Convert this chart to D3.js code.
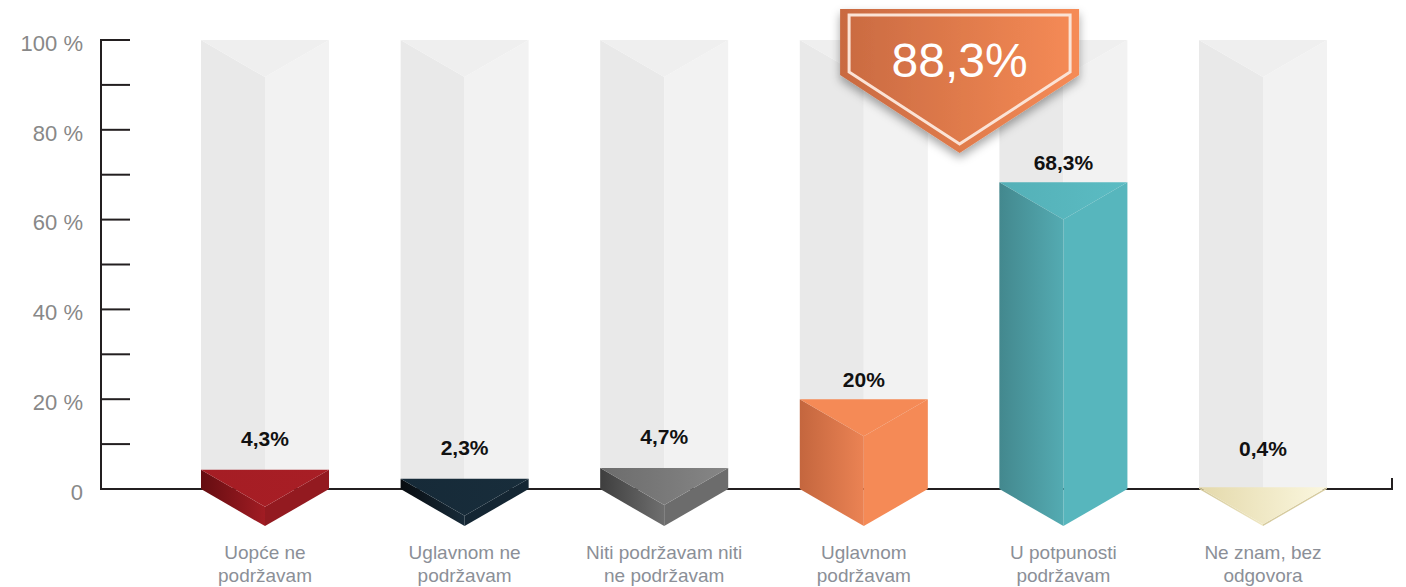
<!doctype html>
<html lang="en">
<head>
  <meta charset="utf-8">
  <title>Podrška</title>
  <style>
  body { margin: 0; background: #fff; }
  svg { display: block; }
  .tick-label { font-family: "Liberation Sans", Arial, sans-serif; font-size: 22px; fill: #888; }
  .value-label { font-family: "Liberation Sans", Arial, sans-serif; font-size: 21px; font-weight: bold; fill: #111; }
  .cat-label { font-family: "Liberation Sans", Arial, sans-serif; font-size: 19px; fill: #8b8f97; }
  .callout-text { font-family: "Liberation Sans", Arial, sans-serif; font-size: 48px; fill: #fff; }
  </style>
</head>
<body>
<div id="chart"></div>
<script src="https://cdnjs.cloudflare.com/ajax/libs/d3/7.8.5/d3.min.js"></script>
<script>

//------------------data
var categories = ["Uopće ne podržavam", "Uglavnom ne podržavam", "Niti podržavam niti ne podržavam",
                  "Uglavnom podržavam", "U potpunosti podržavam", "Ne znam, bez odgovora"];
var labelLines = [["Uopće ne", "podržavam"], ["Uglavnom ne", "podržavam"], ["Niti podržavam niti", "ne podržavam"],
                  ["Uglavnom", "podržavam"], ["U potpunosti", "podržavam"], ["Ne znam, bez", "odgovora"]];
var values = [4.3, 2.3, 4.7, 20, 68.3, 0.4];
var yTicks = [0, 10, 20, 30, 40, 50, 60, 70, 80, 90, 100];
var yTickLabels = ["0", "", "20 %", "", "40 %", "", "60 %", "", "80 %", "", "100 %"];
var calloutValue = 88.3;   // Uglavnom + U potpunosti
var calloutCats = [3, 4];

//------------------colours per bar: top face gradient, right face, left face gradient
var palette = [
  {t0: "#a51d24", t1: "#a81e25", right: "#931a20", l0: "#650d11", l1: "#a11c23"},
  {t0: "#162a38", t1: "#182d3b", right: "#142633", l0: "#080c10", l1: "#172b39"},
  {t0: "#6c6c6c", t1: "#868686", right: "#6c6c6c", l0: "#3e3e3e", l1: "#6f6f6f"},
  {t0: "#f58a56", t1: "#f58a56", right: "#f58a56", l0: "#c4663e", l1: "#eb8354"},
  {t0: "#54b0b7", t1: "#5bbcc3", right: "#57b6bd", l0: "#43888e", l1: "#54abb2"},
  {t0: "#e4d9ab", t1: "#fbf7df", right: "#d6cb9f", l0: "#d3c89a", l1: "#efe7c2"}
];

//------------------svg
var width = 1406, height = 587;
var svg = d3.select("#chart").append("svg")
    .attr("width", width).attr("height", height);

var x = d3.scaleBand().domain(categories).range([201, 1327]).paddingInner(0.3587).paddingOuter(0);
var y = d3.scaleLinear().domain([0, 100]).range([489, 40]);
var bw = x.bandwidth();
var depth = bw * 0.29;

var defs = svg.append("defs");
function hGrad(id, c0, c1) {
  var g = defs.append("linearGradient").attr("id", id)
      .attr("x1", "0").attr("x2", "1").attr("y1", "0").attr("y2", "0");
  g.append("stop").attr("offset", "0").attr("stop-color", c0);
  g.append("stop").attr("offset", "1").attr("stop-color", c1);
}
palette.forEach(function(p, i) {
  hGrad("left" + i, p.l0, p.l1);
  hGrad("top" + i, p.t0, p.t1);
});
hGrad("calloutGrad", "#c96a41", "#f68b56");
var sh = defs.append("filter").attr("id", "shadow")
    .attr("x", "-20%").attr("y", "-20%").attr("width", "140%").attr("height", "150%");
sh.append("feDropShadow").attr("dx", 0).attr("dy", 5).attr("stdDeviation", 5)
    .attr("flood-color", "#000").attr("flood-opacity", 0.35);

function prism(cat, v) {
  var l = x(cat), r = l + bw, c = l + bw / 2;
  var t = y(v), b = y(0);
  return {
    left:  [[l, t], [c, t + depth], [c, b + depth], [l, b]],
    right: [[c, t + depth], [r, t], [r, b], [c, b + depth]],
    top:   [[l, t], [r, t], [c, t + depth]]
  };
}
function pts(a) { return a.map(function(p) { return p.join(","); }).join(" "); }

//------------------background columns
var bg = svg.append("g");
categories.forEach(function(cat) {
  var l = x(cat), r = l + bw, c = l + bw / 2, t = y(100), b = y(0);
  bg.append("polygon").attr("points", pts([[l, t], [c, t + depth], [c, b], [l, b]])).attr("fill", "#e9e9e9");
  bg.append("polygon").attr("points", pts([[c, t + depth], [r, t], [r, b], [c, b]])).attr("fill", "#f2f2f2");
  bg.append("polygon").attr("points", pts([[l, t], [r, t], [c, t + depth]])).attr("fill", "#efefef");
});

//------------------axis
var axis = svg.append("g").attr("stroke", "#231f20").attr("stroke-width", 2);
axis.append("line").attr("x1", 101).attr("x2", 101).attr("y1", y(100) - 1).attr("y2", y(0) + 1);
axis.selectAll(".t").data(yTicks).enter().append("line")
    .attr("x1", 101).attr("x2", 130).attr("y1", function(d) { return y(d); }).attr("y2", function(d) { return y(d); });
axis.append("line").attr("x1", 101).attr("x2", 1393).attr("y1", y(0)).attr("y2", y(0));
axis.append("line").attr("x1", 1392).attr("x2", 1392).attr("y1", y(0)).attr("y2", y(0) - 11);

svg.selectAll(".tick-label").data(yTicks).enter().append("text")
    .attr("class", "tick-label")
    .attr("x", 83).attr("y", function(d) { return y(d) + 3; })
    .attr("dy", "0.35em").attr("text-anchor", "end")
    .text(function(d, i) { return yTickLabels[i]; });

//------------------bars
var bars = svg.append("g");
categories.forEach(function(cat, i) {
  var p = prism(cat, values[i]);
  var g = bars.append("g");
  g.append("polygon").attr("points", pts(p.right)).attr("fill", palette[i].right);
  g.append("polygon").attr("points", pts(p.left)).attr("fill", "url(#left" + i + ")");
  g.append("polygon").attr("points", pts(p.top)).attr("fill", "url(#top" + i + ")");
});

var fmt = function(v) { return (Math.round(v * 10) / 10).toString().replace(".", ",") + "%"; };

svg.selectAll(".value-label").data(values).enter().append("text")
    .attr("class", "value-label")
    .attr("text-anchor", "middle")
    .attr("x", function(d, i) { return x(categories[i]) + bw / 2; })
    .attr("y", function(d) { return d < 10 ? Math.min(y(d) - 24, y(0) - 33) : y(d) - 12; })
    .text(fmt);

var cl = svg.selectAll(".cat-label").data(labelLines).enter().append("text")
    .attr("class", "cat-label")
    .attr("text-anchor", "middle")
    .attr("x", function(d, i) { return x(categories[i]) + bw / 2; })
    .attr("y", 559);
cl.selectAll("tspan").data(function(d) { return d; }).enter().append("tspan")
    .attr("x", function() { return d3.select(this.parentNode).attr("x"); })
    .attr("dy", function(d, j) { return j ? 23 : 0; })
    .text(function(d) { return d; });

//------------------callout
var cx = (x(categories[calloutCats[0]]) + x(categories[calloutCats[1]]) + bw) / 2 - 4;
var cw = 239, ct = 9, cs = 75, ctip = 153;
var callout = svg.append("g");
callout.append("polygon")
    .attr("points", pts([[cx - cw / 2, ct], [cx + cw / 2, ct], [cx + cw / 2, cs], [cx, ctip], [cx - cw / 2, cs]]))
    .attr("fill", "url(#calloutGrad)").attr("filter", "url(#shadow)");
var ins = 9;
callout.append("polygon")
    .attr("points", pts([[cx - cw / 2 + ins, ct + 6], [cx + cw / 2 - ins, ct + 6], [cx + cw / 2 - ins, cs - 3],
                         [cx, ctip - 9], [cx - cw / 2 + ins, cs - 3]]))
    .attr("fill", "none").attr("stroke", "#fbe3d6").attr("stroke-width", 3);
callout.append("text").attr("class", "callout-text")
    .attr("x", cx).attr("y", 77).attr("text-anchor", "middle")
    .text(fmt(calloutValue));

</script>
</body>
</html>
